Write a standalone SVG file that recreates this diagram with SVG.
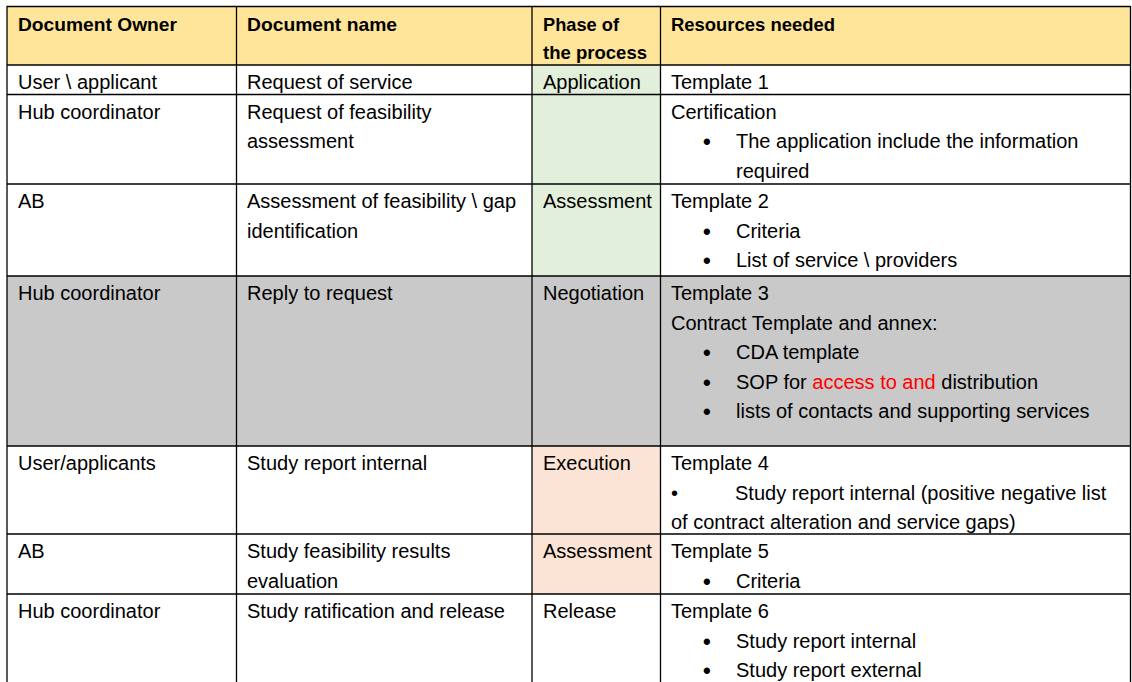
<svg xmlns="http://www.w3.org/2000/svg" width="1132" height="682" viewBox="0 0 1132 682">
<style>
text{font-family:"Liberation Sans",Arial,sans-serif;font-size:20px;fill:#000}
.h{font-weight:bold;font-size:18.5px}
.b{font-size:22px;font-weight:bold}
.red{fill:#FF0000}
.ln{stroke:#000;stroke-width:1.3;fill:none}
</style>
<rect x="0" y="0" width="1132" height="682" fill="#fff"/>
<g id="fills">
<rect x="7" y="6.5" width="1123.5" height="58.5" fill="#FFE599"/>
<rect x="532" y="65" width="128.5" height="211" fill="#E2EFDA"/>
<rect x="7" y="276" width="1123.5" height="170" fill="#C9C9C9"/>
<rect x="532" y="446" width="128.5" height="148" fill="#FBE4D5"/>
</g>
<g id="header">
<text class="h" x="18" y="31" textLength="159" lengthAdjust="spacingAndGlyphs">Document Owner</text>
<text class="h" x="247" y="31" textLength="150" lengthAdjust="spacingAndGlyphs">Document name</text>
<text class="h" x="543" y="31" textLength="76" lengthAdjust="spacingAndGlyphs">Phase of</text>
<text class="h" x="543" y="59" textLength="104" lengthAdjust="spacingAndGlyphs">the process</text>
<text class="h" x="671" y="31" textLength="164" lengthAdjust="spacingAndGlyphs">Resources needed</text>
</g>
<g id="row1">
<text x="18" y="89">User \ applicant</text>
<text x="247" y="89">Request of service</text>
<text x="543" y="89">Application</text>
<text x="671" y="89">Template 1</text>
</g>
<g id="row2">
<text x="18" y="118.5">Hub coordinator</text>
<text x="247" y="118.5">Request of feasibility</text>
<text x="247" y="148">assessment</text>
<text x="671" y="118.5">Certification</text>
<text class="b" x="703" y="149">•</text>
<text x="736" y="148">The application include the information</text>
<text x="736" y="177.5">required</text>
</g>
<g id="row3">
<text x="18" y="208">AB</text>
<text x="247" y="208">Assessment of feasibility \ gap</text>
<text x="247" y="237.5">identification</text>
<text x="543" y="208">Assessment</text>
<text x="671" y="208">Template 2</text>
<text class="b" x="703" y="238.5">•</text>
<text x="736" y="237.5">Criteria</text>
<text class="b" x="703" y="268">•</text>
<text x="736" y="267">List of service \ providers</text>
</g>
<g id="row4">
<text x="18" y="300">Hub coordinator</text>
<text x="247" y="300">Reply to request</text>
<text x="543" y="300">Negotiation</text>
<text x="671" y="300">Template 3</text>
<text x="671" y="329.5">Contract Template and annex:</text>
<text class="b" x="703" y="360">•</text>
<text x="736" y="359">CDA template</text>
<text class="b" x="703" y="389.5">•</text>
<text x="736" y="388.5">SOP for <tspan class="red">access to and</tspan> distribution</text>
<text class="b" x="703" y="419">•</text>
<text x="736" y="418">lists of contacts and supporting services</text>
</g>
<g id="row5">
<text x="18" y="470">User/applicants</text>
<text x="247" y="470">Study report internal</text>
<text x="543" y="470">Execution</text>
<text x="671" y="470">Template 4</text>
<text x="671" y="499.5">•</text>
<text x="735" y="499.5">Study report internal (positive negative list</text>
<text x="671" y="529">of contract alteration and service gaps)</text>
</g>
<g id="row6">
<text x="18" y="558">AB</text>
<text x="247" y="558">Study feasibility results</text>
<text x="247" y="587.5">evaluation</text>
<text x="543" y="558">Assessment</text>
<text x="671" y="558">Template 5</text>
<text class="b" x="703" y="588.5">•</text>
<text x="736" y="587.5">Criteria</text>
</g>
<g id="row7">
<text x="18" y="618">Hub coordinator</text>
<text x="247" y="618">Study ratification and release</text>
<text x="543" y="618">Release</text>
<text x="671" y="618">Template 6</text>
<text class="b" x="703" y="648.5">•</text>
<text x="736" y="647.5">Study report internal</text>
<text class="b" x="703" y="678">•</text>
<text x="736" y="677">Study report external</text>
</g>
<g id="grid" class="ln">
<line x1="7" y1="6.5" x2="1130.5" y2="6.5"/>
<line x1="7" y1="65" x2="1130.5" y2="65"/>
<line x1="7" y1="94.5" x2="1130.5" y2="94.5"/>
<line x1="7" y1="184" x2="1130.5" y2="184"/>
<line x1="7" y1="276" x2="1130.5" y2="276"/>
<line x1="7" y1="446" x2="1130.5" y2="446"/>
<line x1="7" y1="534" x2="1130.5" y2="534"/>
<line x1="7" y1="594" x2="1130.5" y2="594"/>
<line x1="7" y1="6" x2="7" y2="682"/>
<line x1="236.5" y1="6" x2="236.5" y2="682"/>
<line x1="532" y1="6" x2="532" y2="682"/>
<line x1="660.5" y1="6" x2="660.5" y2="682"/>
<line x1="1130.5" y1="6" x2="1130.5" y2="682"/>
</g>
</svg>
